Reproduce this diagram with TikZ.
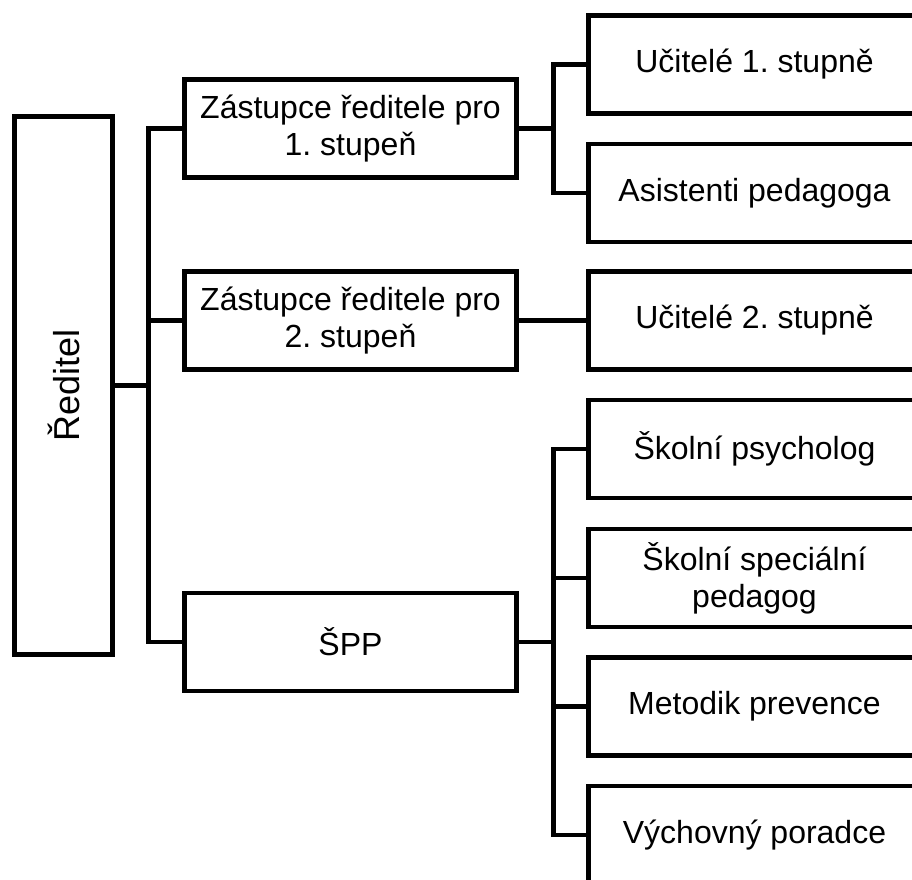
\documentclass[tikz,border=0pt]{standalone}
\usepackage{fontspec}
\setmainfont{Liberation Sans}
\frenchspacing
\begin{document}
\begin{tikzpicture}[x=0.75pt,y=-0.75pt,line width=3.7pt,
            box/.style={draw,line width=3.7pt,align=center,inner sep=0pt,
              minimum width=249pt,minimum height=73.5pt,
              font=\fontsize{24}{27.5}\selectfont}]
            \useasboundingbox (0,0) rectangle (912,879);
            \clip (0,0) rectangle (912,879);
            \node[box,minimum width=73.5pt,minimum height=403.5pt] (red) at (63.5,385.5)
              {\rotatebox{90}{\fontsize{27}{30}\selectfont Ředitel}};
            \node[box] (z1) at (350.5,128.5) {Zástupce ředitele pro\\1. stupeň};
            \node[box] (z2) at (350.5,320.5) {Zástupce ředitele pro\\2. stupeň};
            \node[box] (spp) at (350.5,642) {ŠPP};
            \node[box] (u1) at (754.5,64.5) {Učitelé 1. stupně};
            \node[box] (as) at (754.5,193) {Asistenti pedagoga};
            \node[box] (u2) at (754.5,320.5) {Učitelé 2. stupně};
            \node[box] (ps) at (754.5,449) {Školní psycholog};
            \node[box] (sp) at (754.5,578) {Školní speciální\\pedagog};
            \node[box] (mp) at (754.5,706.5) {Metodik prevence};
            \node[box] (vp) at (754.5,835) {Výchovný poradce};
            % connectors
            \draw (red.east) -- ++(33,0);
            \draw (z1.west) -- ++(-34,0) |- (spp.west);
            \draw (z2.west) -- ++(-34,0);
            \draw (z1.east) -- ++(34,0);
            \draw (u1.west) -- ++(-33,0) |- (as.west);
            \draw (z2.east) -- (u2.west);
            \draw (spp.east) -- ++(34,0);
            \draw (ps.west) -- ++(-33,0) |- (vp.west);
            \draw (sp.west) -- ++(-33,0);
            \draw (mp.west) -- ++(-33,0);
        \end{tikzpicture}
\end{document}
